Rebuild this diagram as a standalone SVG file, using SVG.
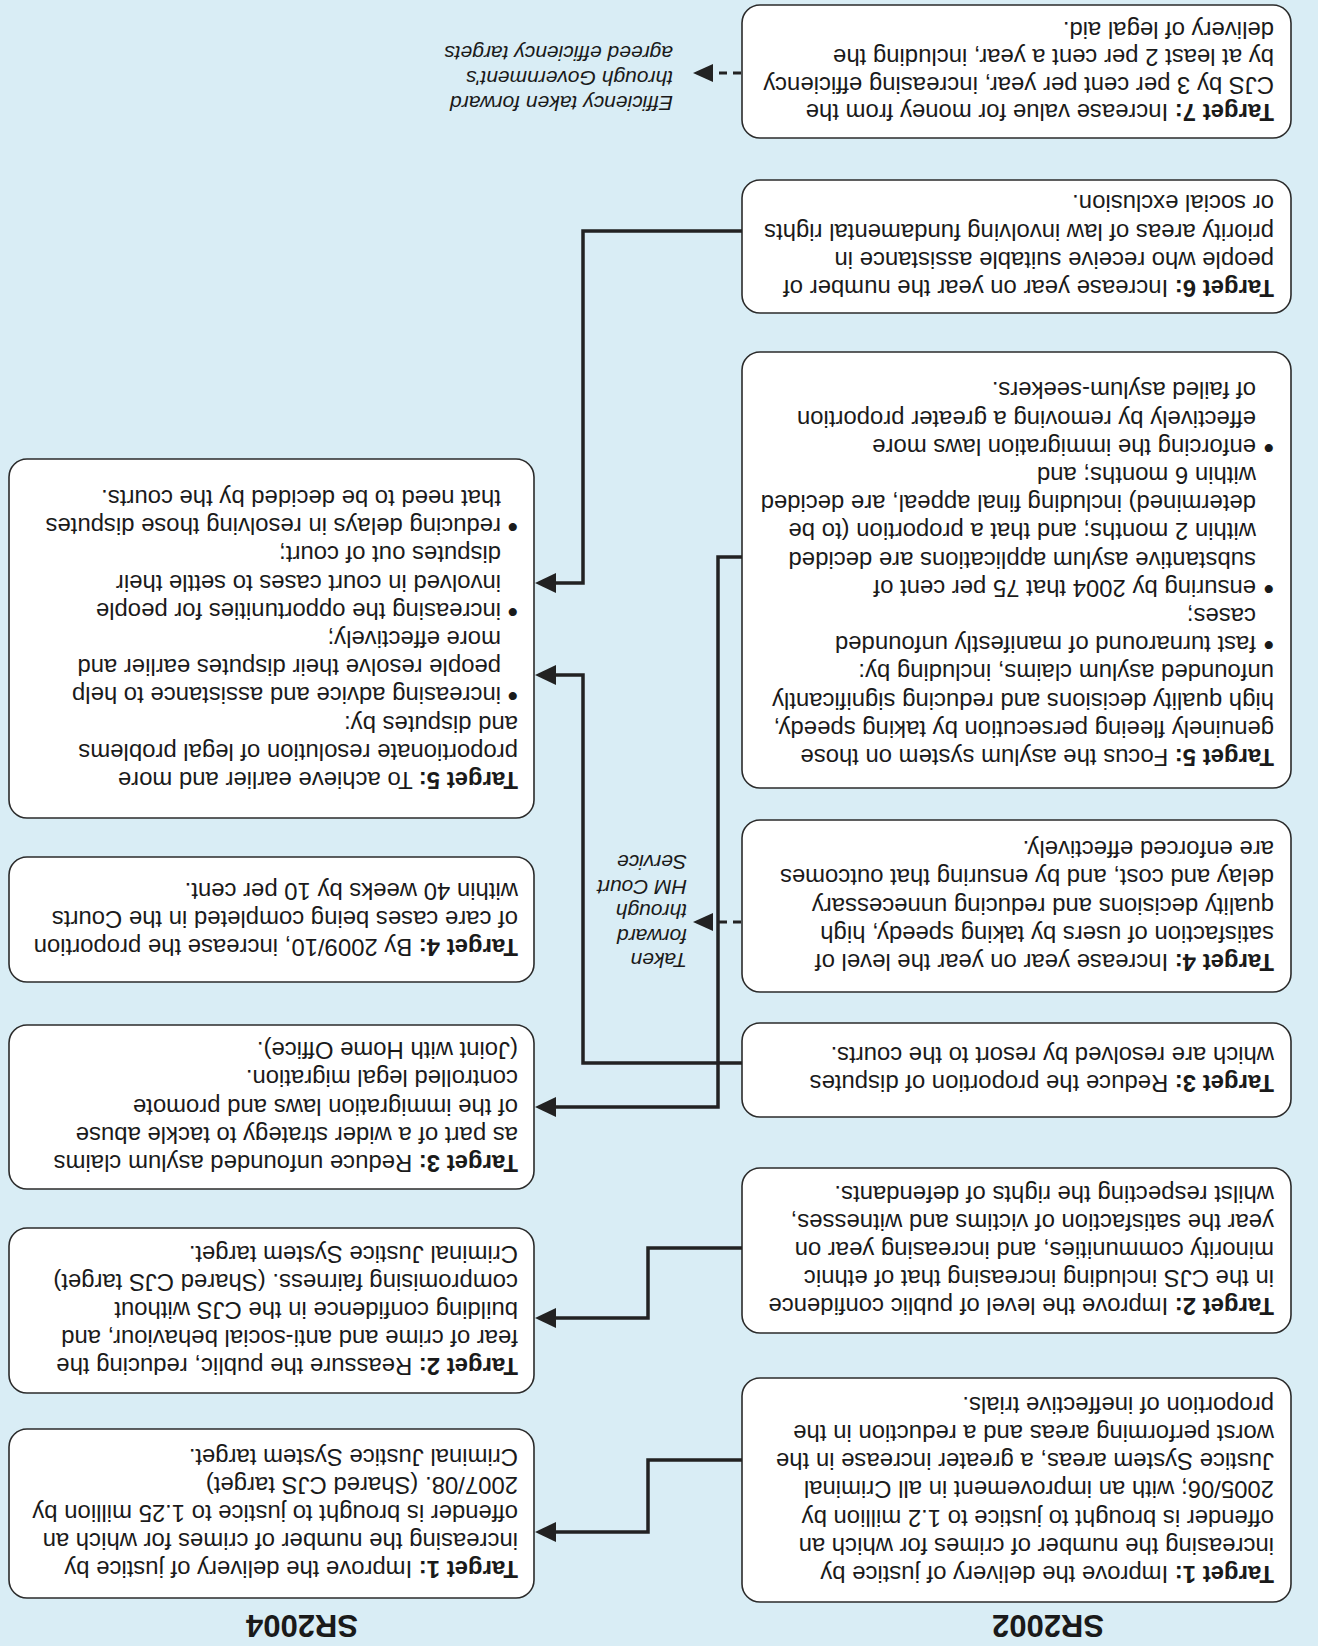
<svg xmlns="http://www.w3.org/2000/svg" width="1318" height="1646" viewBox="0 0 1318 1646">
  <style>
    .bg{fill:#d9edf5}
    .box{fill:#ffffff;stroke:#2b2b2b;stroke-width:1.6}
    .t{font-family:"Liberation Sans",Arial,Helvetica,sans-serif;font-size:23.9px;fill:#1a1a1a}
    .b{font-weight:bold}
    .dot{font-family:"Liberation Sans",Arial,Helvetica,sans-serif;font-size:30px;fill:#1a1a1a}
    .hd{font-family:"Liberation Sans",Arial,Helvetica,sans-serif;font-size:31px;font-weight:bold;fill:#1a1a1a;text-anchor:middle}
    .note{font-family:"Liberation Sans",Arial,Helvetica,sans-serif;font-size:21px;font-style:italic;fill:#1a1a1a}
    .link{fill:none;stroke:#222222;stroke-width:3.5;stroke-linejoin:miter}
    .dash{fill:none;stroke:#222222;stroke-width:3;stroke-dasharray:8 6}
  </style>
  <defs>
    <marker id="head" markerUnits="userSpaceOnUse" viewBox="0 0 22 22" markerWidth="22" markerHeight="22" refX="0" refY="11" orient="auto">
      <path d="M0,1 L21,11 L0,21 Z" fill="#222222"/>
    </marker>
    <marker id="dashhead" markerUnits="userSpaceOnUse" viewBox="0 0 20 18" markerWidth="20" markerHeight="18" refX="-6" refY="9" orient="auto">
      <path d="M0,0 L20,9 L0,18 Z" fill="#222222"/>
    </marker>
  </defs>

  <rect class="bg" x="0" y="0" width="1318" height="1646"/>

  <!-- whole sheet is printed turned half a revolution -->
  <g transform="rotate(180 659 823)">

    <g id="hdr-sr2002"><text class="hd" x="270" y="31">SR2002</text></g>
    <g id="hdr-sr2004"><text class="hd" x="1016" y="31">SR2004</text></g>

    <!-- SR2002 column -->
    <g id="sr2002-t1">
      <rect class="box" x="27" y="44" width="549" height="224" rx="18"/>
      <text class="t" x="44" y="80"><tspan class="b">Target 1:</tspan> Improve the delivery of justice by</text>
      <text class="t" x="44" y="108.2">increasing the number of crimes for which an</text>
      <text class="t" x="44" y="136.4">offender is brought to justice to 1.2 million by</text>
      <text class="t" x="44" y="164.6">2005/06; with an improvement in all Criminal</text>
      <text class="t" x="44" y="192.8">Justice System areas, a greater increase in the</text>
      <text class="t" x="44" y="221">worst performing areas and a reduction in the</text>
      <text class="t" x="44" y="249.2">proportion of ineffective trials.</text>
    </g>
    <g id="sr2002-t2">
      <rect class="box" x="27" y="313" width="549" height="165" rx="18"/>
      <text class="t" x="44" y="347.6"><tspan class="b">Target 2:</tspan> Improve the level of public confidence</text>
      <text class="t" x="44" y="375.8">in the CJS including increasing that of ethnic</text>
      <text class="t" x="44" y="404">minority communities, and increasing year on</text>
      <text class="t" x="44" y="432.2">year the satisfaction of victims and witnesses,</text>
      <text class="t" x="44" y="460.4">whilst respecting the rights of defendants.</text>
    </g>
    <g id="sr2002-t3">
      <rect class="box" x="27" y="529" width="549" height="94" rx="18"/>
      <text class="t" x="44" y="571"><tspan class="b">Target 3:</tspan> Reduce the proportion of disputes</text>
      <text class="t" x="44" y="599.2">which are resolved by resort to the courts.</text>
    </g>
    <g id="sr2002-t4">
      <rect class="box" x="27" y="654" width="549" height="172" rx="18"/>
      <text class="t" x="44" y="692"><tspan class="b">Target 4:</tspan> Increase year on year the level of</text>
      <text class="t" x="44" y="720.2">satisfaction of users by taking speedy, high</text>
      <text class="t" x="44" y="748.4">quality decisions and reducing unnecessary</text>
      <text class="t" x="44" y="776.6">delay and cost, and by ensuring that outcomes</text>
      <text class="t" x="44" y="804.8">are enforced effectively.</text>
    </g>
    <g id="sr2002-t5">
      <rect class="box" x="27" y="858" width="549" height="436" rx="18"/>
      <text class="t" x="44" y="897"><tspan class="b">Target 5:</tspan> Focus the asylum system on those</text>
      <text class="t" x="44" y="925.2">genuinely fleeing persecution by taking speedy,</text>
      <text class="t" x="44" y="953.4">high quality decisions and reducing significantly</text>
      <text class="t" x="44" y="981.6">unfounded asylum claims, including by:</text>
      <text class="dot" x="44" y="1011">•</text>
      <text class="t" x="62" y="1009.8">fast turnaround of manifestly unfounded</text>
      <text class="t" x="62" y="1038">cases;</text>
      <text class="dot" x="44" y="1067.4">•</text>
      <text class="t" x="62" y="1066.2">ensuring by 2004 that 75 per cent of</text>
      <text class="t" x="62" y="1094.4">substantive asylum applications are decided</text>
      <text class="t" x="62" y="1122.6">within 2 months; and that a proportion (to be</text>
      <text class="t" x="62" y="1150.8">determined) including final appeal, are decided</text>
      <text class="t" x="62" y="1179">within 6 months; and</text>
      <text class="dot" x="44" y="1208.4">•</text>
      <text class="t" x="62" y="1207.2">enforcing the immigration laws more</text>
      <text class="t" x="62" y="1235.4">effectively by removing a greater proportion</text>
      <text class="t" x="62" y="1263.6">of failed asylum-seekers.</text>
    </g>
    <g id="sr2002-t6">
      <rect class="box" x="27" y="1333" width="549" height="133" rx="18"/>
      <text class="t" x="44" y="1366"><tspan class="b">Target 6:</tspan> Increase year on year the number of</text>
      <text class="t" x="44" y="1394.2">people who receive suitable assistance in</text>
      <text class="t" x="44" y="1422.4">priority areas of law involving fundamental rights</text>
      <text class="t" x="44" y="1450.6">or social exclusion.</text>
    </g>
    <g id="sr2002-t7">
      <rect class="box" x="27" y="1508" width="549" height="133" rx="18"/>
      <text class="t" x="44" y="1542"><tspan class="b">Target 7:</tspan> Increase value for money from the</text>
      <text class="t" x="44" y="1569.5">CJS by 3 per cent per year, increasing efficiency</text>
      <text class="t" x="44" y="1597">by at least 2 per cent a year, including the</text>
      <text class="t" x="44" y="1624.5">delivery of legal aid.</text>
    </g>

    <!-- SR2004 column -->
    <g id="sr2004-t1">
      <rect class="box" x="784" y="48" width="525" height="169" rx="18"/>
      <text class="t" x="800" y="84.6"><tspan class="b">Target 1:</tspan> Improve the delivery of justice by</text>
      <text class="t" x="800" y="112.8">increasing the number of crimes for which an</text>
      <text class="t" x="800" y="141">offender is brought to justice to 1.25 million by</text>
      <text class="t" x="800" y="169.2">2007/08. (Shared CJS target)</text>
      <text class="t" x="800" y="197.4">Criminal Justice System target.</text>
    </g>
    <g id="sr2004-t2">
      <rect class="box" x="784" y="253" width="525" height="165" rx="18"/>
      <text class="t" x="800" y="287.6"><tspan class="b">Target 2:</tspan> Reassure the public, reducing the</text>
      <text class="t" x="800" y="315.8">fear of crime and anti-social behaviour, and</text>
      <text class="t" x="800" y="344">building confidence in the CJS without</text>
      <text class="t" x="800" y="372.2">compromising fairness. (Shared CJS target)</text>
      <text class="t" x="800" y="400.4">Criminal Justice System target.</text>
    </g>
    <g id="sr2004-t3">
      <rect class="box" x="784" y="457" width="525" height="164" rx="18"/>
      <text class="t" x="800" y="491.1"><tspan class="b">Target 3:</tspan> Reduce unfounded asylum claims</text>
      <text class="t" x="800" y="519.3">as part of a wider strategy to tackle abuse</text>
      <text class="t" x="800" y="547.5">of the immigration laws and promote</text>
      <text class="t" x="800" y="575.7">controlled legal migration.</text>
      <text class="t" x="800" y="603.9">(Joint with Home Office).</text>
    </g>
    <g id="sr2004-t4">
      <rect class="box" x="784" y="664" width="525" height="125" rx="18"/>
      <text class="t" x="800" y="706.8"><tspan class="b">Target 4:</tspan> By 2009/10, increase the proportion</text>
      <text class="t" x="800" y="735">of care cases being completed in the Courts</text>
      <text class="t" x="800" y="763.2">within 40 weeks by 10 per cent.</text>
    </g>
    <g id="sr2004-t5">
      <rect class="box" x="784" y="828" width="525" height="359" rx="18"/>
      <text class="t" x="800" y="874"><tspan class="b">Target 5:</tspan> To achieve earlier and more</text>
      <text class="t" x="800" y="902.2">proportionate resolution of legal problems</text>
      <text class="t" x="800" y="930.4">and disputes by:</text>
      <text class="dot" x="800" y="959.8">•</text>
      <text class="t" x="817" y="958.6">increasing advice and assistance to help</text>
      <text class="t" x="817" y="986.8">people resolve their disputes earlier and</text>
      <text class="t" x="817" y="1015">more effectively;</text>
      <text class="dot" x="800" y="1044.4">•</text>
      <text class="t" x="817" y="1043.2">increasing the opportunities for people</text>
      <text class="t" x="817" y="1071.4">involved in court cases to settle their</text>
      <text class="t" x="817" y="1099.6">disputes out of court;</text>
      <text class="dot" x="800" y="1129">•</text>
      <text class="t" x="817" y="1127.8">reducing delays in resolving those disputes</text>
      <text class="t" x="817" y="1156">that need to be decided by the courts.</text>
    </g>

    <!-- side notes on the dashed links -->
    <g id="note-hmcs">
      <text class="note" x="631" y="693">Taken</text>
      <text class="note" x="631" y="717.5">forward</text>
      <text class="note" x="631" y="742">through</text>
      <text class="note" x="631" y="766.5">HM Court</text>
      <text class="note" x="631" y="791">Service</text>
    </g>
    <g id="note-efficiency">
      <text class="note" x="645" y="1550">Efficiency taken forward</text>
      <text class="note" x="645" y="1575">through Government's</text>
      <text class="note" x="645" y="1600">agreed efficiency targets</text>
    </g>

    <!-- connectors -->
    <g id="connectors">
      <path class="link" d="M576,186 H670 V114 H762" marker-end="url(#head)"/>
      <path class="link" d="M576,398 H670 V328 H762" marker-end="url(#head)"/>
      <path class="link" d="M576,583 H735 V971 H762" marker-end="url(#head)"/>
      <path class="link" d="M576,1089 H600 V539 H762" marker-end="url(#head)"/>
      <path class="link" d="M576,1415 H735 V1063 H762" marker-end="url(#head)"/>
      <path class="dash" d="M577,724 H599" marker-end="url(#dashhead)"/>
      <path class="dash" d="M577,1573 H599" marker-end="url(#dashhead)"/>
    </g>
  </g>
</svg>
